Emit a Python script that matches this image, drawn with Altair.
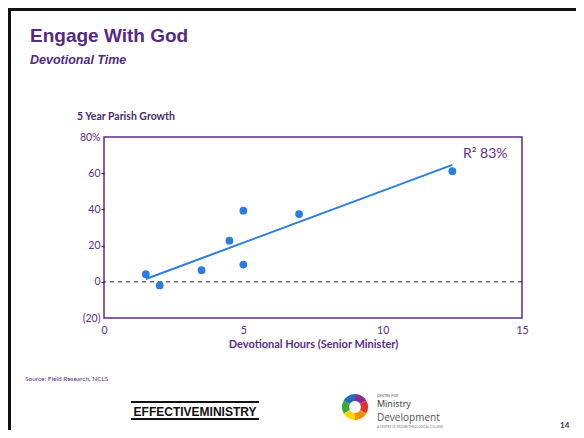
import altair as alt
import pandas as pd

# ---- data ----
hours = [1.5, 2.0, 3.5, 4.5, 5.0, 5.0, 7.0, 12.5]
growth = [4.2, -2.0, 6.4, 22.7, 39.3, 9.5, 37.4, 61.1]
y_ticks = [-20, 0, 20, 40, 60, 80]
x_ticks = [0, 5, 10, 15]

title_text = "Engage With God"
subtitle_text = "Devotional Time"
y_title = "5 Year Parish Growth"
x_title = "Devotional Hours (Senior Minister)"
r2_text = "R\u00b2 83%"
source_text = "Source:  Field Research, NCLS"
page_no = "14"
logo_colors = ["#8e2b8b", "#e4312b", "#f39200", "#ffd500", "#3aaa35", "#1d71b8"]

df = pd.DataFrame({"hours": hours, "growth": growth})

PURPLE = "#5b2c86"
BLUE = "#2a7de1"
W, H = 418, 181
PADL, PADT = 96, 129
TOTW, TOTH = 568, 422

base = alt.Chart(df)

ylabel = ("datum.value == 80 ? '80%' : (datum.value < 0 ? '(' + abs(datum.value) + ')' : "
          "datum.value + '')")

xscale = alt.Scale(domain=[0, 15], nice=False)
yscale = alt.Scale(domain=[-20, 80], nice=False)

xaxis = alt.Axis(values=x_ticks, title=x_title, ticks=False, domain=False,
                 grid=False, labelColor=PURPLE, labelFont="Lato",
                 labelFontSize=10.5, labelPadding=7, labelFlush=False,
                 labelOverlap=False,
                 titleColor=PURPLE, titleFont="Lato", titleFontSize=11,
                 titleFontWeight="bold", titlePadding=3)
yaxis = alt.Axis(values=y_ticks, title=None, labelExpr=ylabel, domain=False,
                 grid=False, tickSize=3, tickWidth=1.2, labelOverlap=False,
                 labelFlush=False, tickColor="#222222",
                 tickOpacity={"condition": {"test": "datum.value >= 80 || datum.value < 0",
                                            "value": 0}, "value": 1},
                 labelColor=PURPLE, labelFont="Lato", labelFontSize=10.5,
                 labelPadding=1)

points = base.mark_circle(size=60, color=BLUE, opacity=1).encode(
    x=alt.X("hours:Q", scale=xscale, axis=xaxis),
    y=alt.Y("growth:Q", scale=yscale, axis=yaxis),
)

trend = base.transform_regression("hours", "growth").mark_line(
    color=BLUE, strokeWidth=2).encode(
    x=alt.X("hours:Q", scale=xscale, axis=xaxis),
    y=alt.Y("growth:Q", scale=yscale, axis=yaxis))

zero = alt.Chart(pd.DataFrame({"growth": [0]})).mark_rule(
    color="#222222", strokeDash=[4, 4], strokeWidth=1).encode(
    y=alt.Y("growth:Q", scale=yscale, axis=yaxis))


def label(txt, x, y, size, weight="normal", style="normal", color=PURPLE,
          font="Lato", align="left", baseline="alphabetic"):
    return alt.Chart(pd.DataFrame({"t": [txt]})).mark_text(
        fontSize=size, fontWeight=weight, fontStyle=style, color=color,
        font=font, align=align, baseline=baseline).encode(
        text="t:N", x=alt.value(x), y=alt.value(y))


texts = [
    label(title_text, -74, -95, 19, weight="bold", font="Liberation Sans", color="#552a82"),
    label(subtitle_text, -74, -73, 12.5, weight="bold", style="italic", font="Liberation Sans",
          color="#552a82"),
    label(y_title, -27, -17, 10.5, weight="bold", color="#4a2a6e"),
    label(r2_text, 359, 21, 14),
    label(source_text, -79, 244, 6.5),
    label("EFFECTIVEMINISTRY", 91, 279, 12, weight="bold", color="#111111",
          font="Liberation Sans", align="center"),
    label("CENTRE FOR", 273, 260, 3.5, color="#555555"),
    label("Ministry", 273, 270, 9, color="#333333", font="Open Sans"),
    label("Development", 273, 284, 10, color="#555555", font="Open Sans"),
    label("A CENTRE OF MOORE THEOLOGICAL COLLEGE", 273, 291, 3, color="#777777"),
    label(page_no, 456, 291, 8, weight="bold", color="#3d2a5a"),
]


# decorative rules (slide frame and logo lines)
def hrule(x1, x2, y, color, width):
    return alt.Chart(pd.DataFrame({"v": [0]})).mark_rule(
        color=color, strokeWidth=width).encode(
        x=alt.value(x1), x2=alt.value(x2), y=alt.value(y))


def vrule(x, y1, y2, color, width):
    return alt.Chart(pd.DataFrame({"v": [0]})).mark_rule(
        color=color, strokeWidth=width).encode(
        x=alt.value(x), y=alt.value(y1), y2=alt.value(y2))


frame = [
    hrule(-PADL, TOTW - PADL, -PADT + 1.5, "#111111", 3),
    vrule(-PADL + 1.5, -PADT, TOTH - PADT, "#111111", 3),
    hrule(27, 155, 265, "#111111", 2),
    hrule(27, 155, 282, "#111111", 2),
]

logo = []
n = len(logo_colors)
for i, c in enumerate(logo_colors):
    logo.append(alt.Chart(pd.DataFrame({"v": [0]})).mark_arc(
        innerRadius=6, outerRadius=13, theta=i * 6.2832 / n,
        theta2=(i + 1) * 6.2832 / n, color=c).encode(
        x=alt.value(251), y=alt.value(270)))

chart = alt.layer(zero, trend, points, *texts, *frame, *logo).properties(
    width=W, height=H,
    autosize=alt.AutoSizeParams(type="none"),
    padding={"left": PADL, "top": PADT, "right": TOTW - PADL - W, "bottom": TOTH - PADT - H},
    background="white",
).configure_view(stroke=PURPLE, strokeWidth=1.5)

chart.save("out.html", embed_options={"renderer": "svg", "actions": False})
